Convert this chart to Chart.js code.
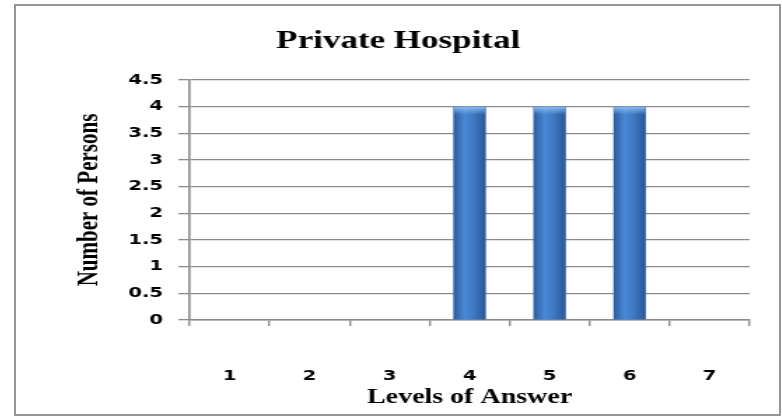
<!DOCTYPE html>
<html>
<head>
<meta charset="utf-8">
<script src="https://cdn.jsdelivr.net/npm/chart.js@4"></script>
<style>
  html, body { margin: 0; padding: 0; background: #fff; overflow: hidden; }
  #box {
    position: absolute; left: 14px; top: 4px;
    width: 767px; height: 412px;
    border: 2px solid #969696; box-sizing: border-box;
    overflow: hidden;
  }
  /* the original picture is stretched sideways, so the canvas is too */
  #chart { display: block; transform: scaleX(1.4); transform-origin: 0 0; }
</style>
</head>
<body>
<div id="box"><canvas id="chart" width="545" height="408"></canvas></div>
<script>
// data
const levels = ['1', '2', '3', '4', '5', '6', '7'];
const persons = [0, 0, 0, 4, 4, 4, 0];
const yTicks = [0, 0.5, 1, 1.5, 2, 2.5, 3, 3.5, 4, 4.5];

// shade each bar like a cylinder, using the bar positions from the library
const cylinder = {
  id: 'cylinder',
  afterDatasetsDraw(chart) {
    const ctx = chart.ctx;
    chart.getDatasetMeta(0).data.forEach((bar, i) => {
      if (!persons[i]) return;
      const left = bar.x - bar.width / 2, right = bar.x + bar.width / 2;
      const g = ctx.createLinearGradient(left, 0, right, 0);
      g.addColorStop(0, '#2b5c9c');
      g.addColorStop(0.35, '#4a88d4');
      g.addColorStop(0.6, '#3f7bc6');
      g.addColorStop(1, '#2a5894');
      ctx.save();
      ctx.fillStyle = g;
      ctx.fillRect(left, bar.y, bar.width, bar.base - bar.y);
      // lighter cap on top
      const cap = ctx.createLinearGradient(0, bar.y, 0, bar.y + 8);
      cap.addColorStop(0, 'rgba(140,190,245,0.95)');
      cap.addColorStop(1, 'rgba(140,190,245,0)');
      ctx.fillStyle = cap;
      ctx.fillRect(left, bar.y, bar.width, 8);
      ctx.restore();
    });
  }
};

const tickFont = { family: 'DejaVu Sans', size: 14, weight: 'bold' };

new Chart(document.getElementById('chart'), {
  type: 'bar',
  data: {
    labels: levels,
    datasets: [{
      data: persons,
      backgroundColor: '#3a74bd',
      borderWidth: 0,
      barPercentage: 0.8,
      categoryPercentage: 0.5
    }]
  },
  options: {
    responsive: false,
    animation: false,
    layout: { padding: { left: 22, right: 21, top: 0, bottom: 0 } },
    plugins: {
      legend: { display: false },
      tooltip: { enabled: false },
      title: {
        display: true,
        text: 'Private Hospital',
        color: '#000',
        font: { family: 'Liberation Serif', size: 25, weight: 'bold' },
        padding: { top: 21, bottom: 23 }
      }
    },
    scales: {
      x: {
        afterFit: s => { s.height = 94; },
        grid: { drawOnChartArea: false, offset: true, tickLength: 6, color: '#8c8c8c', lineWidth: 1.4 },
        border: { color: '#8c8c8c', width: 1.6 },
        ticks: { color: '#000', padding: 42, font: tickFont },
        title: {
          display: true, text: 'Levels of Answer', color: '#000',
          font: { family: 'Liberation Serif', size: 20, weight: 'bold' },
          padding: { top: 0, bottom: 4 }
        }
      },
      y: {
        min: 0, max: 4.5,
        afterBuildTicks: axis => { axis.ticks = yTicks.map(v => ({ value: v })); },
        grid: { color: '#8c8c8c', lineWidth: 1.3, tickLength: 8 },
        border: { color: '#8c8c8c', width: 1.6 },
        ticks: { color: '#000', padding: 11, font: tickFont, callback: v => String(v) },
        title: {
          display: true, text: 'Number of Persons', color: '#000',
          font: { family: 'Liberation Serif', size: 21, weight: 'bold' },
          padding: { top: 18, bottom: 4 }
        }
      }
    }
  },
  plugins: [cylinder]
});
</script>
</body>
</html>
